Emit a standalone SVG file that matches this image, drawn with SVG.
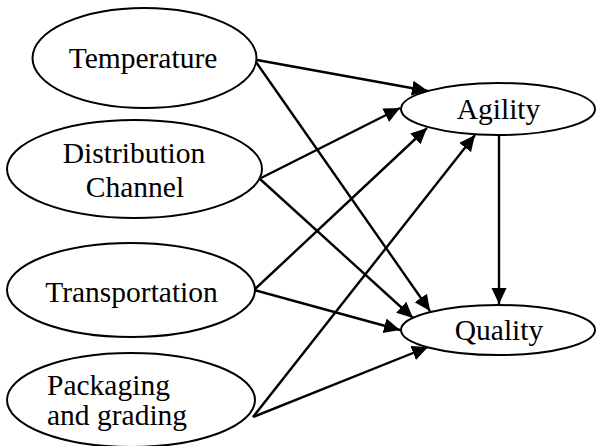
<svg xmlns="http://www.w3.org/2000/svg" width="596" height="446" viewBox="0 0 596 446">
<style>
.n ellipse{fill:#fff;stroke:#000;stroke-width:2}
.n text{font-family:"Liberation Serif","Times New Roman",serif;font-size:29.5px;fill:#000}
.c line{stroke:#000;stroke-width:2.4;marker-end:url(#ah)}
</style>
<defs>
<marker id="ah" markerUnits="userSpaceOnUse" markerWidth="17" markerHeight="16" refX="16" refY="7.5" orient="auto">
<path d="M0,0 L16,7.5 L0,15 z" fill="#000"/>
</marker>
</defs>
<rect width="596" height="446" fill="#fff"/>
<g class="c" id="connectors">
<line x1="257" y1="60" x2="428" y2="91"/>
<line x1="256" y1="62" x2="430" y2="311"/>
<line x1="261" y1="178" x2="400" y2="108"/>
<line x1="260" y1="179" x2="413" y2="318"/>
<line x1="254" y1="290" x2="427" y2="128"/>
<line x1="254" y1="290" x2="400" y2="330"/>
<line x1="253" y1="417" x2="475" y2="135"/>
<line x1="253" y1="417" x2="428" y2="347"/>
<line x1="499" y1="135" x2="499" y2="304"/>
</g>
<g class="n" id="temperature">
<ellipse cx="144.5" cy="58" rx="112" ry="50"/>
<text x="143" y="68" text-anchor="middle">Temperature</text>
</g>
<g class="n" id="distribution">
<ellipse cx="134.5" cy="169" rx="127.5" ry="49"/>
<text x="134" y="163" text-anchor="middle">Distribution</text>
<text x="135" y="197" text-anchor="middle">Channel</text>
</g>
<g class="n" id="transportation">
<ellipse cx="131" cy="290" rx="124" ry="47"/>
<text x="131.5" y="302" text-anchor="middle">Transportation</text>
</g>
<g class="n" id="packaging">
<ellipse cx="131" cy="400" rx="124" ry="47"/>
<text x="47" y="395">Packaging</text>
<text x="47" y="425">and grading</text>
</g>
<g class="n" id="agility">
<ellipse cx="498" cy="109" rx="97" ry="26"/>
<text x="498.5" y="119" text-anchor="middle">Agility</text>
</g>
<g class="n" id="quality">
<ellipse cx="498" cy="330" rx="97" ry="25"/>
<text x="499" y="340" text-anchor="middle">Quality</text>
</g>
</svg>
